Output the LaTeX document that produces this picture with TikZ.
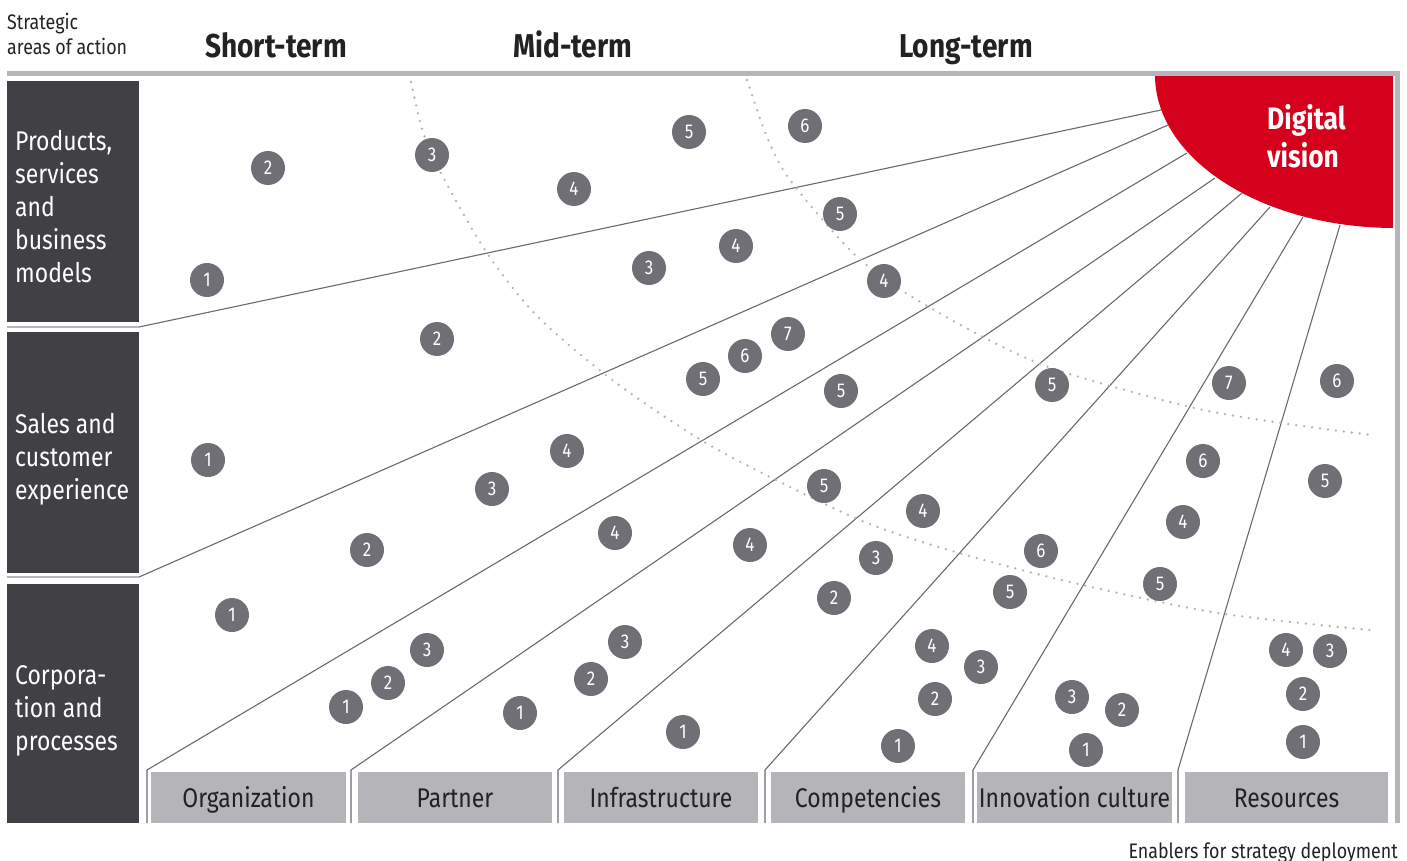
\documentclass[tikz,border=0pt]{standalone}
\usepackage{fontspec}
\setmainfont{Fira Sans}[FakeStretch=0.85]
\definecolor{barGray}{HTML}{B6B5BA}
\definecolor{darkBox}{HTML}{414045}
\definecolor{circGray}{HTML}{706F75}
\definecolor{lineGray}{HTML}{6A6A6E}
\definecolor{porscheRed}{HTML}{D5001C}
\definecolor{dotGray}{HTML}{B4B4B4}
\definecolor{enablerGray}{HTML}{B5B4B9}
\definecolor{textDark}{HTML}{222222}
\begin{document}
\begin{tikzpicture}[x=1pt,y=-1pt,
  circ/.style={circle,fill=circGray,text=white,minimum size=34pt,inner sep=0pt,font=\fontsize{20}{20}\selectfont},
  areabox/.style={fill=darkBox,inner sep=0pt,minimum width=132pt},
  arealabel/.style={text=white,align=left,anchor=west,inner sep=0pt,font=\fontsize{27}{33}\selectfont},
  enabler/.style={fill=enablerGray,text=textDark,inner sep=0pt,minimum height=51pt,text height=22pt,text depth=3pt,font=\fontsize{27}{27}\selectfont},
  fan/.style={draw=lineGray,line width=1.1pt},
  sepline/.style={draw=barGray,line width=2pt},
  dotarc/.style={draw=dotGray,line width=2.6pt,line cap=round,dash pattern=on 0pt off 8pt},
  head/.style={font=\bfseries\fontsize{33}{33}\selectfont,text=textDark,anchor=base,inner sep=0pt},
  small/.style={font=\fontsize{21}{25}\selectfont,text=textDark,inner sep=0pt}
]
\useasboundingbox (0,0) rectangle (1407,861);

% fan end points on the vision shape
\coordinate (v1) at (1161,110);
\coordinate (v2) at (1168,125);
\coordinate (v3) at (1187,153);
\coordinate (v4) at (1215,178);
\coordinate (v5) at (1242,193);
\coordinate (v6) at (1270,207);
\coordinate (v7) at (1303,217);
\coordinate (v8) at (1340,225);
% fan start points
\coordinate (s1) at (139,327);
\coordinate (s2) at (139,577);
\coordinate (b3) at (147,823); \coordinate (k3) at (147,770);
\coordinate (b4) at (351,823); \coordinate (k4) at (351,770);
\coordinate (b5) at (558,823); \coordinate (k5) at (558,770);
\coordinate (b6) at (765,823); \coordinate (k6) at (765,770);
\coordinate (b7) at (973,823); \coordinate (k7) at (973,770);
\coordinate (b8) at (1178,823); \coordinate (k8) at (1178,770);

% fan lines
\draw[fan] (s1) -- (v1);
\draw[fan] (s2) -- (v2);
\draw[fan] (b3) -- (k3) -- (v3);
\draw[fan] (b4) -- (k4) -- (v4);
\draw[fan] (b5) -- (k5) -- (v5);
\draw[fan] (b6) -- (k6) -- (v6);
\draw[fan] (b7) -- (k7) -- (v7);
\draw[fan] (b8) -- (k8) -- (v8);

% separators between areas
\draw[sepline] (7,327) -- (s1);
\draw[sepline] (7,577) -- (s2);

% dotted time horizons
\draw[dotarc] plot[smooth] coordinates {(411,82) (423,132) (443,177) (487,253) (538,317) (615,382) (701,440) (776,480) (867,523) (959,553) (1074,583) (1218,613) (1370,630)};
\draw[dotarc] plot[smooth] coordinates {(747,80) (767,137) (790,180) (850,250) (901,290) (983,337) (1057,370) (1190,407) (1281,423) (1372,435)};

% digital vision shape
\begin{scope}
  \clip (1150,76) rectangle (1393,235);
  \fill[porscheRed] (1395,75) ellipse[x radius=240,y radius=153];
\end{scope}
\node[text=white,align=left,anchor=north west,inner sep=0pt,font=\bfseries\fontsize{31}{38}\selectfont] (dv) at (1267,104) {Digital\\vision};

% top bar and right border
\fill[barGray] (7,71) rectangle (1400,76);
\fill[barGray] (1395,71) rectangle (1400,823);

% headings
\node[small,anchor=base west,align=left] (sa) at (7,55) {Strategic\\areas of action};
\node[head] (st) at (276,58) {Short-term};
\node[head] (mt) at (573,58) {Mid-term};
\node[head] (lt) at (966,58) {Long-term};

% areas of action
\node[areabox,minimum height=241pt] (a1) at (73,201.5) {};
\node[areabox,minimum height=241pt] (a2) at (73,452.5) {};
\node[areabox,minimum height=239pt] (a3) at (73,703.5) {};
\node[arealabel] (l1) at (15,207) {Products,\\services\\and\\business\\models};
\node[arealabel] (l2) at (15,459) {Sales and\\customer\\experience};
\node[arealabel] (l3) at (15,711) {Corpora-\\tion and\\processes};

% enablers
\node[enabler,minimum width=195pt] (e1) at (248.5,797.5) {Organization};
\node[enabler,minimum width=194pt] (e2) at (455,797.5) {Partner};
\node[enabler,minimum width=194pt] (e3) at (661,797.5) {Infrastructure};
\node[enabler,minimum width=194pt] (e4) at (868,797.5) {Competencies};
\node[enabler,minimum width=195pt] (e5) at (1074.5,797.5) {Innovation culture};
\node[enabler,minimum width=203pt] (e6) at (1286.5,797.5) {Resources};
\node[small,anchor=base east,font=\fontsize{21}{21}\selectfont] (en) at (1398,858) {Enablers for strategy deployment};

% measures
\foreach \n/\x/\y/\d in {
 1/268/168/2, 2/207/280/1, 3/432/155/3, 4/574/189/4, 5/689/132/5, 6/805/126/6,
 7/649/268/3, 8/736/246/4, 9/840/214/5, 10/884/281/4, 11/437/339/2, 12/788/334/7,
 13/745/356/6, 14/703/379/5, 15/841/391/5, 16/1052/385/5, 17/1229/383/7, 18/1337/381/6,
 19/208/460/1, 20/567/451/4, 21/492/489/3, 22/824/486/5, 23/923/511/4, 24/1203/461/6,
 25/1325/481/5, 26/367/550/2, 27/615/533/4, 28/750/545/4, 29/876/558/3, 30/1041/551/6,
 31/1183/522/4, 32/834/598/2, 33/1010/592/5, 34/1160/584/5, 35/232/615/1, 36/427/650/3,
 37/388/683/2, 38/346/707/1, 39/625/642/3, 40/591/679/2, 41/520/713/1, 42/683/732/1,
 43/932/646/4, 44/981/667/3, 45/935/699/2, 46/898/746/1, 47/1072/697/3, 48/1122/710/2,
 49/1086/750/1, 50/1286/650/4, 51/1330/651/3, 52/1303/694/2, 53/1303/742/1}
 {\node[circ] (c\n) at (\x,\y) {\d};}
\end{tikzpicture}
\end{document}
